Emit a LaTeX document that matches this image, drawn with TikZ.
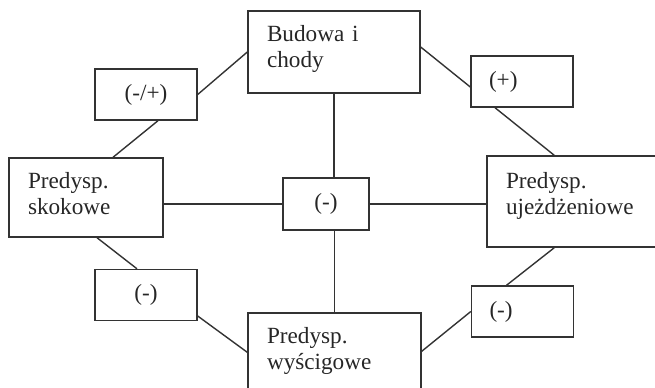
\documentclass[tikz,border=0pt]{standalone}
\usepackage{fontspec}
\setmainfont{Liberation Serif}
\usetikzlibrary{positioning}
\tikzstyle{block} = [rectangle, draw=black!80, line width=0.7pt, text=black!85, align=left, inner xsep=9.5pt, inner ysep=0pt, font=\fontsize{11.6}{13}\selectfont]
\tikzstyle{sign} = [rectangle, draw=black!80, line width=0.7pt, text=black!85, minimum width=51pt, minimum height=25.5pt, inner sep=0pt, font=\fontsize{11.6}{13}\selectfont]
\tikzstyle{signl} = [sign, text width=33pt, align=left, inner xsep=9pt]
\tikzstyle{link} = [draw=black!80, line width=0.7pt]

\begin{document}
\begin{tikzpicture}[x=0.5pt,y=-0.5pt]
    \useasboundingbox (0,0) rectangle (655,387);
    \clip (0,0) rectangle (655,387);
    \node [block, text width=67pt, minimum height=41pt, text depth=18.2pt] (budowa) at (334,52) {Budowa i\\chody};
    \node [block, text width=58pt, minimum height=39.5pt, text depth=17.4pt] (skok) at (86,197.5) {Predysp.\\skokowe};
    \node [block, text width=104pt, minimum height=45.5pt, text depth=21.4pt] (ujezdz) at (610,201.5) {Predysp.\\ujeżdżeniowe};
    \node [block, text width=67.5pt, minimum height=44pt, text depth=21.4pt] (wyscig) at (334.5,357) {Predysp.\\wyścigowe};

    \node [sign] (plusminus) at (146,94.5) {(-/+)};
    \node [signl] (plus) at (522,81.5) {(+)};
    \node [sign, minimum width=43pt, minimum height=26pt] (mid) at (326,204) {(-)};
    \node [sign] (minusl) at (146,295) {(-)};
    \node [signl] (minusr) at (522.5,311.5) {(-)};

    \draw[link](budowa.west) -- (plusminus.east);
    \draw[link]([xshift=6pt]plusminus.south) -- ([xshift=13.5pt]skok.north);
    \draw[link]([yshift=2.5pt]budowa.east) -- ([yshift=-2.75pt]plus.west);
    \draw[link]([xshift=-13.5pt]plus.south) -- ([xshift=34pt]ujezdz.north west);
    \draw[link]([xshift=5.5pt]skok.south) -- ([xshift=-4.5pt]minusl.north);
    \draw[link]([yshift=-10.5pt]minusl.east) -- ([yshift=-20pt]wyscig.north west);
    \draw[link]([xshift=34pt]ujezdz.south west) -- ([xshift=-8pt]minusr.north);
    \draw[link](minusr.west) -- ([yshift=-19.5pt]wyscig.north east);

    \draw[link](skok.east |- mid.west) -- (mid.west);
    \draw[link](mid.east) -- (mid.east -| ujezdz.west);
    \draw[link](budowa.south) -- (budowa.south |- mid.north);
    \draw[link](wyscig.north |- mid.south) -- (wyscig.north);
\end{tikzpicture}
\end{document}
